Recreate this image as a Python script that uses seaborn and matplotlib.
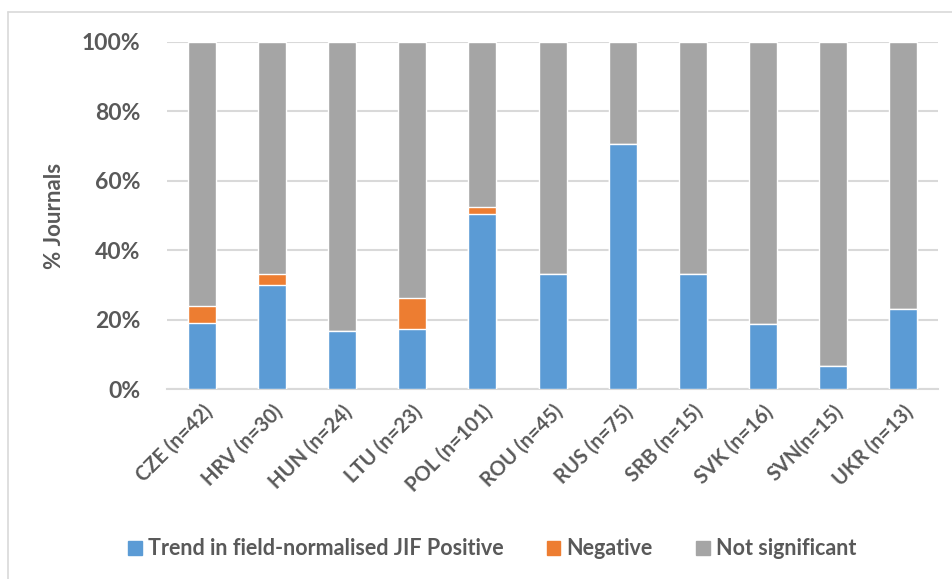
import matplotlib
matplotlib.use("Agg")
import matplotlib.pyplot as plt
import matplotlib.patches as mpatches
from matplotlib.ticker import PercentFormatter
import seaborn as sns
import pandas as pd

# values (% of journals per country)
countries = ["CZE (n=42)", "HRV (n=30)", "HUN (n=24)", "LTU (n=23)", "POL (n=101)",
             "ROU (n=45)", "RUS (n=75)", "SRB (n=15)", "SVK (n=16)", "SVN(n=15)", "UKR (n=13)"]
positive = [19.0, 30.0, 16.7, 17.4, 50.5, 33.3, 70.7, 33.3, 18.75, 6.7, 23.1]
negative = [4.8, 3.3, 0.0, 8.7, 2.0, 0.0, 0.0, 0.0, 0.0, 0.0, 0.0]
not_sig = [100 - p - n for p, n in zip(positive, negative)]

series_names = ["Trend in field-normalised JIF Positive", "Negative", "Not significant"]
colors = ["#5b9bd5", "#ed7d31", "#a5a5a5"]
text_col = "#595959"
grid_col = "#d9d9d9"

df = pd.DataFrame({"country": countries, "pos": positive, "neg": negative, "ns": not_sig})
df["pos_neg"] = df["pos"] + df["neg"]
df["total"] = df["pos_neg"] + df["ns"]

sns.set_style("white")
plt.rcParams["font.family"] = ["Lato", "DejaVu Sans"]
plt.rcParams["font.weight"] = "bold"

fig = plt.figure(figsize=(9.52, 5.79), dpi=100)
ax = fig.add_axes([0.1754, 0.328, 0.81, 0.5995])

# stacked bars drawn as overlapping cumulative layers
sns.barplot(data=df, x="country", y="total", color=colors[2], width=0.4,
            saturation=1, ax=ax, zorder=2)
sns.barplot(data=df, x="country", y="pos_neg", color=colors[1], width=0.4,
            saturation=1, ax=ax, zorder=3)
sns.barplot(data=df, x="country", y="pos", color=colors[0], width=0.4,
            saturation=1, ax=ax, zorder=4)

ax.set_ylim(0, 100)
ax.set_xlim(-0.5, len(countries) - 0.5)
ax.set_yticks(range(0, 101, 20))
ax.yaxis.set_major_formatter(PercentFormatter(decimals=0))
ax.yaxis.grid(True, color=grid_col, linewidth=1.5, zorder=0)
ax.set_axisbelow(True)
for s in ["top", "right", "left"]:
    ax.spines[s].set_visible(False)
ax.spines["bottom"].set_color(grid_col)
ax.spines["bottom"].set_linewidth(1.5)

ax.tick_params(axis="both", length=0, colors=text_col)
ax.tick_params(axis="y", labelsize=16.5, pad=19)
ax.tick_params(axis="x", labelsize=14.5, pad=9)
ax.set_xticks(range(len(countries)))
ax.set_xticklabels(countries, rotation=45, ha="right", rotation_mode="anchor",
                   fontweight="bold", color=text_col)

ax.set_xlabel("")
ax.set_ylabel("% Journals", fontsize=16, fontweight="bold", color=text_col, labelpad=12)

handles = [mpatches.Patch(color=c, label=n) for c, n in zip(colors, series_names)]
fig.legend(handles=handles, loc="center", bbox_to_anchor=(0.517, 0.052), ncol=3,
           frameon=False, handlelength=0.63, handleheight=0.63, handletextpad=0.3,
           columnspacing=2.0, prop={"size": 15.5, "weight": "bold"}, labelcolor=text_col)

# outer chart frame (left and top edges visible in the reference)
fig.add_artist(plt.Line2D([8 / 952, 8 / 952], [0, 1 - 12 / 579], color=grid_col, lw=1.2))
fig.add_artist(plt.Line2D([8 / 952, 1], [1 - 12 / 579, 1 - 12 / 579], color=grid_col, lw=1.2))

fig.savefig("out.png", dpi=100)
